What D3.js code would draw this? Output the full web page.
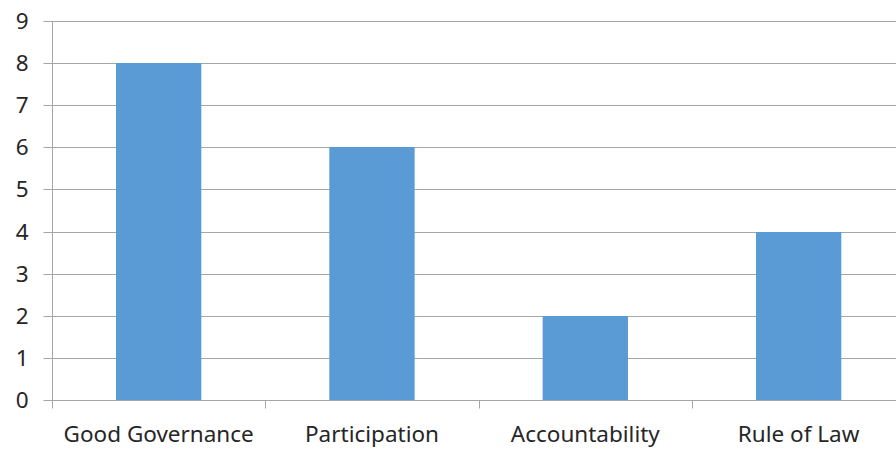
<!DOCTYPE html>
<html><head><meta charset="utf-8">
<script src="https://cdn.jsdelivr.net/npm/d3@7"></script>
<style>html,body{margin:0;padding:0;background:#fff;}svg{display:block;}</style>
</head><body>
<svg id="c" width="896" height="449"></svg>
<script>
const categories = ["Good Governance", "Participation", "Accountability", "Rule of Law"];
const values = [8, 6, 2, 4];
const yTicks = [0,1,2,3,4,5,6,7,8,9];

const svg = d3.select("#c");
const mLeft = 52, mRight = 905.3, mTop = 21, mBottom = 400;
const font = "Noto Sans, sans-serif";
const fs = 22.5;

const x = d3.scaleBand().domain(categories).range([mLeft, mRight]).paddingInner(0.6).paddingOuter(0.3);
const slot = d3.scaleBand().domain(categories).range([mLeft, mRight]).padding(0);
const y = d3.scaleLinear().domain([0, 9]).range([mBottom, mTop]);

// gridlines
svg.append("g").selectAll("line").data(yTicks.filter(t => t > 0)).join("line")
  .attr("x1", mLeft).attr("x2", 896)
  .attr("y1", d => Math.round(y(d)) + 0.5).attr("y2", d => Math.round(y(d)) + 0.5)
  .attr("stroke", "#a6a6a6").attr("stroke-width", 1);

// bars
svg.append("g").selectAll("rect").data(values).join("rect")
  .attr("x", (d, i) => x(categories[i]))
  .attr("width", x.bandwidth())
  .attr("y", d => Math.round(y(d)))
  .attr("height", d => Math.round(y(0)) - Math.round(y(d)))
  .attr("fill", "#5b9bd5");

// y axis
const yAxis = d3.axisLeft(y).tickValues(yTicks).tickSize(9).tickPadding(15).tickFormat(d3.format("d"));
const gy = svg.append("g").attr("transform", `translate(${mLeft + 0.5},0)`).call(yAxis);
gy.select(".domain").attr("stroke", "#a6a6a6").attr("d", `M0,${mTop}V${mBottom + 8}`);
gy.selectAll(".tick").attr("transform", d => `translate(0,${Math.round(y(d)) + 0.5})`);
gy.selectAll(".tick line").attr("stroke", "#a6a6a6");
gy.selectAll("text").attr("font-family", font).attr("font-size", fs).attr("fill", "#262626");

// x axis
const xAxis = d3.axisBottom(slot).tickSize(0).tickPadding(26);
const gx = svg.append("g").attr("transform", `translate(0,${mBottom + 0.5})`).call(xAxis);
gx.select(".domain").attr("stroke", "#a6a6a6").attr("d", `M${mLeft},0H896`);
gx.selectAll("text").attr("font-family", font).attr("font-size", fs).attr("fill", "#262626");
// category boundary ticks
gx.append("g").selectAll("line").data(categories).join("line")
  .attr("x1", d => Math.round(slot(d)) + 0.5).attr("x2", d => Math.round(slot(d)) + 0.5)
  .attr("y1", 0).attr("y2", 8).attr("stroke", "#a6a6a6");
</script>
</body></html>
